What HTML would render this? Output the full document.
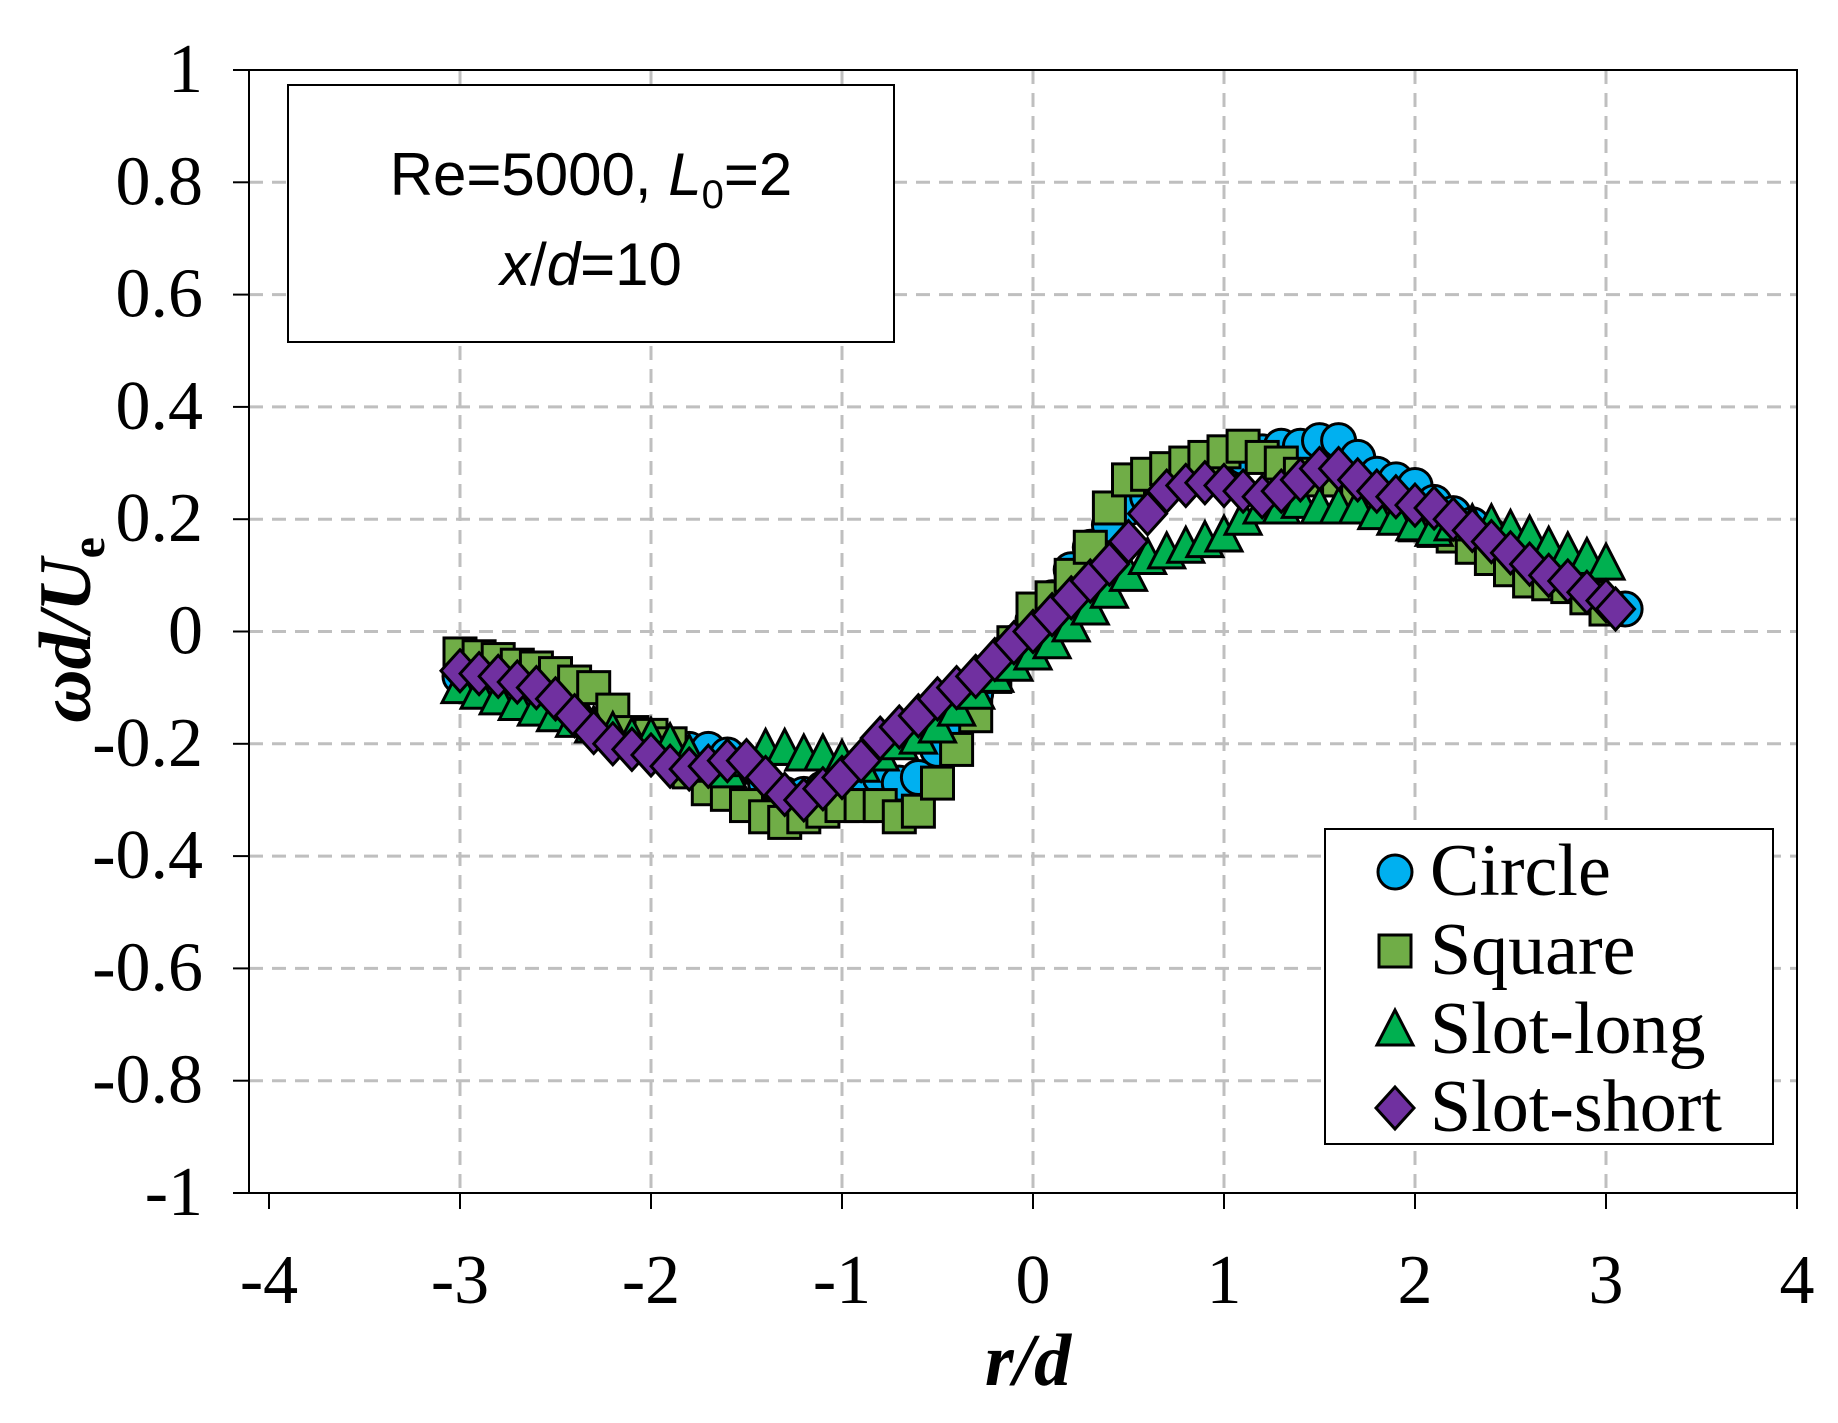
<!DOCTYPE html>
<html><head><meta charset="utf-8"><style>
html,body{margin:0;padding:0;background:#fff;}
svg{display:block;}
</style></head><body>
<svg id="chart" width="1838" height="1423" viewBox="0 0 1838 1423" xmlns="http://www.w3.org/2000/svg">
<g id="grid"></g>
<g id="axes"></g>
<g id="series"></g>
<g>
<rect x="288" y="85" width="606" height="257" fill="#fff" stroke="#000" stroke-width="2"/>
<text x="591" y="195" text-anchor="middle" font-family="Liberation Sans, sans-serif" font-size="60">Re=5000, <tspan font-style="italic">L</tspan><tspan font-size="40" dy="13">0</tspan><tspan dy="-13">=2</tspan></text>
<text x="591" y="285" text-anchor="middle" font-family="Liberation Sans, sans-serif" font-size="60"><tspan font-style="italic">x</tspan>/<tspan font-style="italic">d</tspan>=10</text>
</g>
<text x="1028" y="1385" text-anchor="middle" font-family="Liberation Serif, serif" font-size="74" font-weight="bold" font-style="italic">r/d</text>
<text transform="translate(90,630) rotate(-90)" text-anchor="middle" font-family="Liberation Serif, serif" font-size="74" font-weight="bold" font-style="italic">ωd/U<tspan font-size="48" dy="14" font-style="normal">e</tspan></text>
<g id="legend">
<rect x="1325" y="829" width="448" height="315" fill="#fff" stroke="#000" stroke-width="2"/>
</g>
</svg>
<script>
const xTicks = [-4,-3,-2,-1,0,1,2,3,4];
const yTicks = [-1,-0.8,-0.6,-0.4,-0.2,0,0.2,0.4,0.6,0.8,1];
const yTickLabels = ["-1","-0.8","-0.6","-0.4","-0.2","0","0.2","0.4","0.6","0.8","1"];
const seriesNames = ["Circle","Square","Slot-long","Slot-short"];

const circleX = [-3,-2.9,-2.8,-2.7,-2.6,-2.5,-2.4,-2.3,-2.2,-2.1,-2,-1.9,-1.8,-1.7,-1.6,-1.5,-1.4,-1.3,-1.2,-1.1,-1,-0.9,-0.8,-0.7,-0.6,-0.5,-0.4,-0.3,-0.2,-0.1,0,0.1,0.2,0.3,0.4,0.5,0.6,0.7,0.8,0.9,1,1.1,1.2,1.3,1.4,1.5,1.6,1.7,1.8,1.9,2,2.1,2.2,2.3,2.4,2.5,2.6,2.7,2.8,2.9,3,3.1];
const circleY = [-0.08,-0.085,-0.09,-0.1,-0.11,-0.13,-0.15,-0.17,-0.19,-0.2,-0.21,-0.21,-0.21,-0.21,-0.22,-0.24,-0.27,-0.29,-0.29,-0.28,-0.27,-0.26,-0.26,-0.27,-0.26,-0.21,-0.16,-0.11,-0.06,-0.02,0.02,0.06,0.11,0.15,0.19,0.22,0.24,0.26,0.28,0.29,0.3,0.31,0.32,0.33,0.33,0.34,0.34,0.31,0.28,0.27,0.26,0.23,0.21,0.19,0.17,0.15,0.13,0.11,0.09,0.07,0.05,0.04];

const squareX = [-3,-2.9,-2.8,-2.7,-2.6,-2.5,-2.4,-2.3,-2.2,-2.1,-2,-1.9,-1.8,-1.7,-1.6,-1.5,-1.4,-1.3,-1.2,-1.1,-1,-0.9,-0.8,-0.7,-0.6,-0.5,-0.4,-0.3,-0.2,-0.1,0,0.1,0.2,0.3,0.4,0.5,0.6,0.7,0.8,0.9,1,1.1,1.2,1.3,1.4,1.5,1.6,1.7,1.8,1.9,2,2.1,2.2,2.3,2.4,2.5,2.6,2.7,2.8,2.9,3];
const squareY = [-0.04,-0.045,-0.05,-0.06,-0.065,-0.075,-0.09,-0.1,-0.14,-0.18,-0.185,-0.2,-0.25,-0.28,-0.29,-0.31,-0.33,-0.34,-0.33,-0.32,-0.31,-0.31,-0.31,-0.33,-0.32,-0.27,-0.21,-0.15,-0.08,-0.02,0.04,0.06,0.1,0.15,0.22,0.27,0.28,0.29,0.3,0.31,0.32,0.33,0.31,0.3,0.28,0.27,0.27,0.25,0.23,0.21,0.19,0.18,0.17,0.15,0.13,0.11,0.09,0.085,0.08,0.06,0.04];

const longX = [-3,-2.9,-2.8,-2.7,-2.6,-2.5,-2.4,-2.3,-2.2,-2.1,-2,-1.9,-1.8,-1.7,-1.6,-1.5,-1.4,-1.3,-1.2,-1.1,-1,-0.9,-0.8,-0.7,-0.6,-0.5,-0.4,-0.3,-0.2,-0.1,0,0.1,0.2,0.3,0.4,0.5,0.6,0.7,0.8,0.9,1,1.1,1.2,1.3,1.4,1.5,1.6,1.7,1.8,1.9,2,2.1,2.2,2.3,2.4,2.5,2.6,2.7,2.8,2.9,3];
const longY = [-0.1,-0.11,-0.12,-0.13,-0.14,-0.15,-0.16,-0.17,-0.18,-0.19,-0.19,-0.2,-0.22,-0.24,-0.25,-0.23,-0.21,-0.21,-0.22,-0.22,-0.23,-0.24,-0.22,-0.2,-0.19,-0.17,-0.14,-0.11,-0.08,-0.06,-0.04,-0.02,0.01,0.04,0.07,0.1,0.13,0.14,0.15,0.16,0.17,0.2,0.22,0.22,0.23,0.22,0.22,0.22,0.21,0.2,0.19,0.18,0.19,0.19,0.19,0.18,0.17,0.15,0.14,0.13,0.12];

const shortX = [-3,-2.9,-2.8,-2.7,-2.6,-2.5,-2.4,-2.3,-2.2,-2.1,-2,-1.9,-1.8,-1.7,-1.6,-1.5,-1.4,-1.3,-1.2,-1.1,-1,-0.9,-0.8,-0.7,-0.6,-0.5,-0.4,-0.3,-0.2,-0.1,0,0.1,0.2,0.3,0.4,0.5,0.6,0.7,0.8,0.9,1,1.1,1.2,1.3,1.4,1.5,1.6,1.7,1.8,1.9,2,2.1,2.2,2.3,2.4,2.5,2.6,2.7,2.8,2.9,3,3.05];
const shortY = [-0.07,-0.075,-0.08,-0.09,-0.1,-0.12,-0.15,-0.18,-0.2,-0.21,-0.22,-0.24,-0.245,-0.24,-0.23,-0.23,-0.26,-0.29,-0.3,-0.28,-0.26,-0.23,-0.19,-0.17,-0.15,-0.12,-0.1,-0.08,-0.05,-0.02,0,0.03,0.06,0.09,0.12,0.16,0.21,0.25,0.26,0.265,0.26,0.25,0.24,0.25,0.27,0.29,0.29,0.27,0.25,0.24,0.225,0.22,0.2,0.18,0.16,0.14,0.12,0.1,0.09,0.07,0.055,0.04];

const NS = "http://www.w3.org/2000/svg";
const X0 = 269, X1 = 1797, Y0 = 1193, Y1 = 70, AXL = 249;
function sx(v){ return X0 + (v + 4) / 8 * (X1 - X0); }
function sy(v){ return Y0 - (v + 1) / 2 * (Y0 - Y1); }
function mk(tag, attrs, parent){ const e = document.createElementNS(NS, tag); for (const k in attrs) e.setAttribute(k, attrs[k]); parent.appendChild(e); return e; }

const grid = document.getElementById('grid');
const axes = document.getElementById('axes');
xTicks.forEach(function(t){
  if (t > -4 && t < 4) {
    const g = mk('line', {x1:sx(t), x2:sx(t), y1:Y1, y2:Y0, stroke:'#bfbfbf', 'stroke-width':3, 'stroke-dasharray':'14,9'}, grid);
    
    
  }
  const tk = mk('line', {x1:sx(t), x2:sx(t), y1:Y0, y2:Y0+16, stroke:'#000', 'stroke-width':2}, axes);
  
  
  const lb = mk('text', {x:sx(t), y:1303, 'text-anchor':'middle', 'font-family':'Liberation Serif, serif', 'font-size':70}, axes);
  lb.textContent = String(t);
  
  
});
yTicks.forEach(function(t, i){
  if (t > -1 && t < 1) {
    const g = mk('line', {x1:AXL, x2:X1, y1:sy(t), y2:sy(t), stroke:'#bfbfbf', 'stroke-width':3, 'stroke-dasharray':'14,9'}, grid);
    
    
  }
  const tk = mk('line', {x1:AXL-16, x2:AXL, y1:sy(t), y2:sy(t), stroke:'#000', 'stroke-width':2}, axes);
  
  
  const lb = mk('text', {x:203, y:sy(t)+22, 'text-anchor':'end', 'font-family':'Liberation Serif, serif', 'font-size':70}, axes);
  lb.textContent = yTickLabels[i];
  
  
});
const frame = mk('path', {d:'M'+AXL+' '+Y1+' H'+X1+' V'+Y0+' H'+AXL+' Z', fill:'none', stroke:'#000', 'stroke-width':2}, axes);



function marker(kind, cx, cy, parent){
  let e;
  const st = {stroke:'#000', 'stroke-width':3};
  if (kind === 0) e = mk('circle', Object.assign({cx:cx, cy:cy, r:17, fill:'#00b0f0'}, st), parent);
  else if (kind === 1) e = mk('rect', Object.assign({x:cx-16, y:cy-16, width:32, height:32, fill:'#70ad47'}, st), parent);
  else if (kind === 2) e = mk('polygon', Object.assign({points:(cx)+','+(cy-20)+' '+(cx+18)+','+(cy+15)+' '+(cx-18)+','+(cy+15), fill:'#00b050'}, st), parent);
  else e = mk('polygon', Object.assign({points:(cx)+','+(cy-21)+' '+(cx+19)+','+(cy)+' '+(cx)+','+(cy+21)+' '+(cx-19)+','+(cy), fill:'#7030a0'}, st), parent);
  return e;
}
const series = document.getElementById('series');
const allX = [circleX, squareX, longX, shortX];
const allY = [circleY, squareY, longY, shortY];
const slugs = ['circle','square','slot-long','slot-short'];
for (let s = 0; s < 4; s++) {
  const g = mk('g', {}, series);
  
  
  for (let i = 0; i < allX[s].length; i++) {
    const m = marker(s, sx(allX[s][i]), sy(allY[s][i]), g);
    
    
  }
}
const legend = document.getElementById('legend');
const legY = [872, 951, 1030, 1108];
for (let s = 0; s < 4; s++) {
  const g = mk('g', {}, legend);
  
  
  marker(s, 1395, legY[s], g);
  const t = mk('text', {x:1430, y:legY[s]+23, 'font-family':'Liberation Serif, serif', 'font-size':74}, g);
  t.textContent = seriesNames[s];
}
</script>
</body></html>
